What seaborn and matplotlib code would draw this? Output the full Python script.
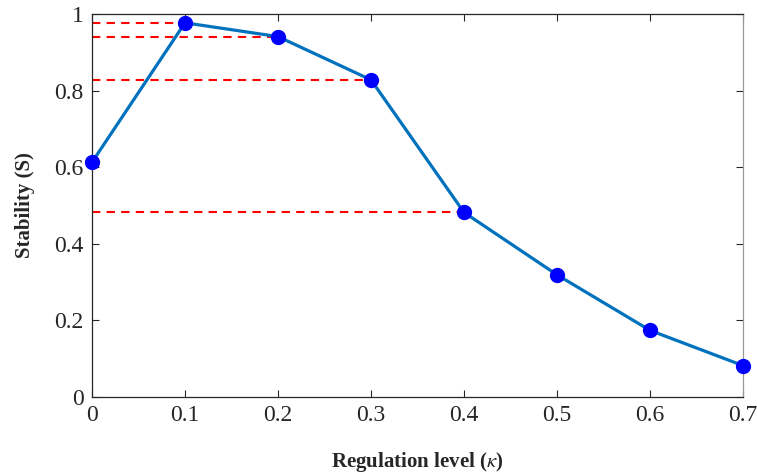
import matplotlib
matplotlib.use("Agg")
import matplotlib.pyplot as plt
import seaborn as sns
import pandas as pd

# --- data ---
kappa = [0.0, 0.1, 0.2, 0.3, 0.4, 0.5, 0.6, 0.7]
stability = [0.613, 0.977, 0.941, 0.828, 0.482, 0.319, 0.174, 0.082]
guide_idx = [1, 2, 3, 4]  # points with red dashed guide lines to the y axis
x_ticks = [0, 0.1, 0.2, 0.3, 0.4, 0.5, 0.6, 0.7]
x_tick_labels = ["0", "0.1", "0.2", "0.3", "0.4", "0.5", "0.6", "0.7"]
y_ticks = [0, 0.2, 0.4, 0.6, 0.8, 1.0]
y_tick_labels = ["0", "0.2", "0.4", "0.6", "0.8", "1"]


def main():
	sns.set_style("ticks")
	plt.rcParams["font.family"] = ["Liberation Serif", "DejaVu Serif"]
	plt.rcParams["mathtext.fontset"] = "stix"

	df = pd.DataFrame({"kappa": kappa, "S": stability})

	fig = plt.figure(figsize=(7.57, 4.75), dpi=100)
	ax = fig.add_axes([92 / 757, 1 - 397 / 475, (743 - 92) / 757, (397 - 14) / 475])

	for i in guide_idx:
		ax.plot([0, kappa[i]], [stability[i], stability[i]], color="red",
			linestyle=(0, (4, 3)), linewidth=1.5, zorder=2)

	sns.lineplot(data=df, x="kappa", y="S", ax=ax, color="#0072BD",
		linewidth=2.3, zorder=3)
	ax.plot(df["kappa"], df["S"], linestyle="none", marker="o", markersize=10,
		color="blue", zorder=4, clip_on=False)

	ax.set_xlim(0, 0.7)
	ax.set_ylim(0, 1)
	ax.set_xticks(x_ticks)
	ax.set_xticklabels(x_tick_labels)
	ax.set_yticks(y_ticks)
	ax.set_yticklabels(y_tick_labels)
	ax.tick_params(direction="in", top=True, right=True, length=5,
		width=0.8, labelsize=17, colors="#262626", pad=6)

	for side in ["top", "right", "bottom", "left"]:
		ax.spines[side].set_visible(True)
		ax.spines[side].set_color("#262626")
		ax.spines[side].set_linewidth(0.9)
	ax.spines["right"].set_color("#999999")

	ax.set_xlabel(r"Regulation level ($\kappa$)", fontsize=15, fontweight="bold",
		labelpad=17, color="#262626")
	ax.set_ylabel("Stability (S)", fontsize=15, fontweight="bold",
		labelpad=14, color="#262626")

	fig.savefig("out.png", dpi=100)


if __name__ == "__main__":
	main()
